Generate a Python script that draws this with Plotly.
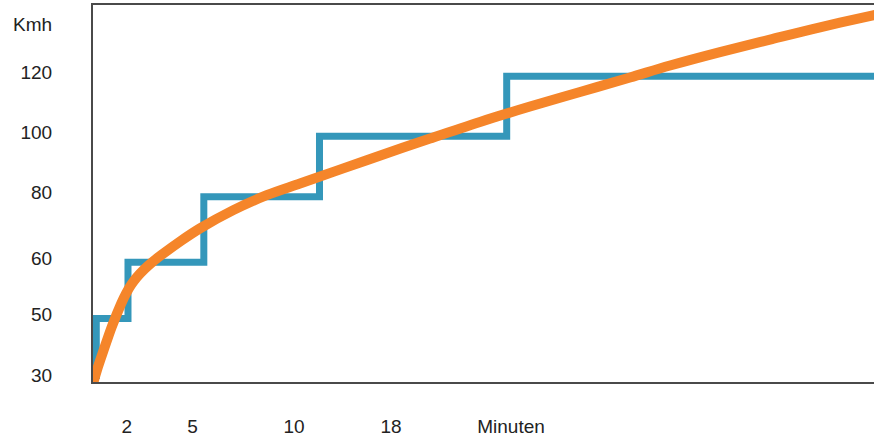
import plotly.graph_objects as go

# Y scale: speed labels and their (non-linear) positions on the vertical scale
speed_labels = ["30", "50", "60", "80", "100", "120", "Kmh"]
speed_values = [30, 50, 60, 80, 100, 120]
speed_pos = [0.0, 1.0, 1.93, 3.01, 4.01, 5.0]
kmh_pos = 5.79

# X scale: tick labels and their positions on the horizontal scale (0-100)
x_tick_labels = ["2", "5", "10", "18", "Minuten"]
x_tick_pos = [4.31, 12.74, 25.74, 38.16, 53.52]

# Step series (blue): break positions and speed levels
step_x = [0.42, 0.42, 4.48, 14.19, 29.0, 52.97, 101.0]
step_speed = [30, 50, 60, 80, 100, 120, 120]

# Smooth series (orange): points (scale units)
curve_x = [0.064, 0.512, 1.370, 2.407, 3.624, 4.225, 4.866, 5.634, 6.620, 7.554,
           8.745, 11.306, 13.700, 17.964, 22.241, 26.505, 30.768, 35.045, 43.150,
           49.552, 55.954, 62.356, 68.758, 73.880, 80.282, 86.684, 93.086,
           99.872, 100.77]
curve_y = [-0.050, 0.149, 0.479, 0.863, 1.249, 1.411, 1.551, 1.683, 1.818, 1.926,
           2.046, 2.285, 2.487, 2.789, 3.036, 3.229, 3.421, 3.614, 3.972,
           4.246, 4.500, 4.740, 4.980, 5.177, 5.399, 5.606, 5.809,
           6.007, 6.035]

pos_of = dict(zip(speed_values, speed_pos))
step_y = [pos_of[s] for s in step_speed]

fig = go.Figure()
fig.add_trace(go.Scatter(
    x=step_x, y=step_y, mode="lines", line_shape="hv",
    line=dict(color="#3497BA", width=7), hoverinfo="skip"))
fig.add_trace(go.Scatter(
    x=curve_x, y=curve_y, mode="lines", line_shape="spline",
    line=dict(color="#F5852A", width=10, smoothing=1.0), hoverinfo="skip"))

fig.update_layout(
    width=874, height=436,
    margin=dict(l=93, r=0, t=5, b=54),
    paper_bgcolor="white", plot_bgcolor="white",
    showlegend=False,
    font=dict(family="Liberation Sans, Arial, sans-serif", size=19, color="#222"),
    xaxis=dict(
        range=[0, 100], showgrid=False, zeroline=False, automargin=False,
        showline=True, mirror=True, linecolor="#4a4a4a", linewidth=2,
        tickmode="array", tickvals=x_tick_pos, ticktext=x_tick_labels,
        ticks="", ticklabelstandoff=26),
    yaxis=dict(
        range=[-0.05, 6.177], showgrid=False, zeroline=False, automargin=False,
        showline=True, mirror=False, linecolor="#4a4a4a", linewidth=2,
        tickmode="array", tickvals=speed_pos + [kmh_pos], ticktext=speed_labels,
        ticks="", ticklabelstandoff=35, ticklabelshift=-4),
)

fig.write_html("out.html", config={"displayModeBar": False},
               post_script="document.body.style.margin='0';")
